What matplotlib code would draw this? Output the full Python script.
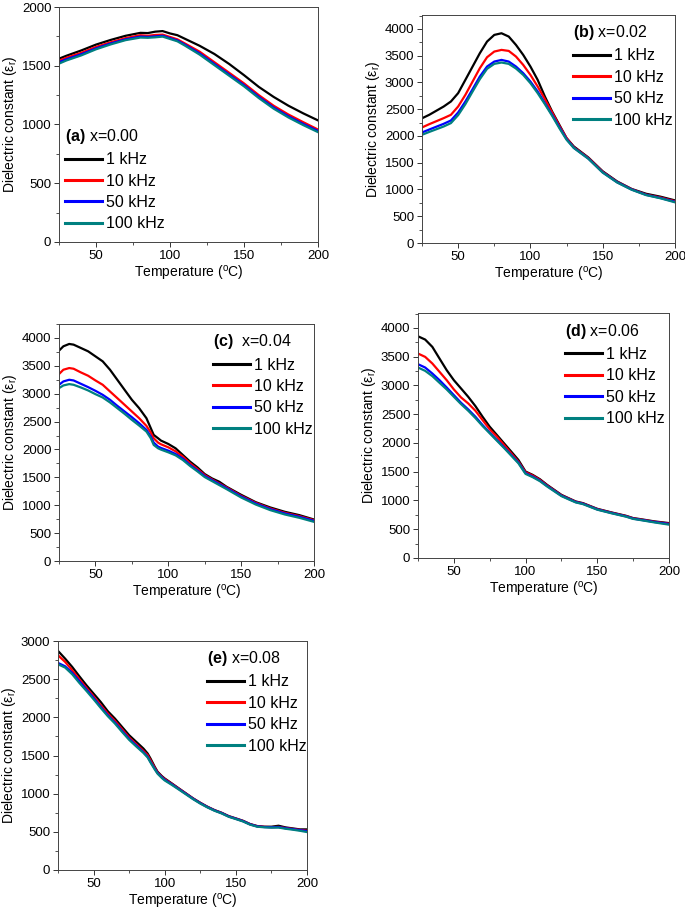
import numpy as np
import matplotlib
matplotlib.use("Agg")
import matplotlib.pyplot as plt
from matplotlib.ticker import MultipleLocator

plt.rcParams["font.family"] = ["Liberation Sans", "DejaVu Sans"]
plt.rcParams["mathtext.fontset"] = "custom"
plt.rcParams["mathtext.rm"] = "Liberation Sans"
plt.rcParams["mathtext.it"] = "Liberation Sans:italic"
plt.rcParams["mathtext.bf"] = "Liberation Sans:bold"

freqs = ["1 kHz", "10 kHz", "50 kHz", "100 kHz"]
colors = ["black", "#ff0000", "#0000ff", "#008080"]

# (a) x=0.00
Ta = [25, 30, 40, 50, 60, 70, 80, 85, 90, 95, 100, 105, 110, 120, 130, 140, 150, 160, 170, 180, 190, 200]
a_1k = [1560, 1585, 1630, 1680, 1720, 1755, 1780, 1778, 1790, 1795, 1775, 1760, 1730, 1670, 1600, 1515, 1420, 1320, 1235, 1160, 1095, 1035]
a_10k = [1543, 1568, 1610, 1660, 1700, 1735, 1760, 1755, 1762, 1765, 1745, 1725, 1690, 1620, 1530, 1440, 1350, 1250, 1160, 1085, 1020, 957]
a_50k = [1530, 1555, 1598, 1648, 1690, 1725, 1748, 1745, 1750, 1755, 1735, 1715, 1680, 1605, 1515, 1425, 1335, 1235, 1145, 1070, 1005, 945]
a_100k = [1518, 1545, 1588, 1640, 1682, 1718, 1740, 1738, 1742, 1748, 1728, 1708, 1672, 1595, 1505, 1415, 1325, 1225, 1135, 1060, 995, 935]

# (b) x=0.02
Tb = [25, 30, 40, 45, 50, 55, 60, 65, 70, 75, 80, 85, 90, 95, 100, 105, 110, 115, 120, 125, 130, 140, 150, 160, 170, 180, 190, 200]
b_1k = [2330, 2395, 2550, 2644, 2800, 3048, 3297, 3546, 3764, 3888, 3919, 3857, 3701, 3515, 3297, 3048, 2737, 2457, 2208, 1960, 1804, 1599, 1340, 1150, 1010, 920, 865, 796]
b_10k = [2159, 2220, 2333, 2395, 2550, 2768, 3017, 3266, 3471, 3577, 3608, 3589, 3484, 3328, 3141, 2924, 2688, 2439, 2190, 1960, 1790, 1590, 1330, 1140, 1005, 905, 850, 780]
b_50k = [2065, 2120, 2227, 2289, 2439, 2644, 2874, 3110, 3297, 3390, 3421, 3390, 3297, 3173, 3017, 2831, 2613, 2395, 2165, 1941, 1780, 1580, 1320, 1135, 1000, 900, 840, 770]
b_100k = [2022, 2075, 2177, 2240, 2389, 2594, 2830, 3061, 3254, 3347, 3372, 3347, 3260, 3141, 2986, 2800, 2594, 2377, 2146, 1929, 1775, 1575, 1315, 1130, 995, 895, 835, 760]

# (c) x=0.04
Tc = [25, 28, 32, 35, 40, 45, 50, 55, 60, 65, 70, 75, 80, 85, 88, 90, 93, 95, 100, 105, 110, 115, 120, 125, 130, 135, 140, 150, 160, 170, 180, 190, 200]
c_1k = [3772, 3850, 3892, 3880, 3820, 3760, 3670, 3580, 3430, 3250, 3070, 2891, 2741, 2561, 2381, 2261, 2201, 2159, 2099, 2021, 1901, 1781, 1679, 1559, 1481, 1421, 1331, 1187, 1055, 960, 882, 822, 744]
c_10k = [3352, 3430, 3460, 3448, 3382, 3322, 3238, 3160, 3040, 2921, 2801, 2681, 2561, 2423, 2303, 2201, 2123, 2093, 2039, 1967, 1871, 1751, 1649, 1541, 1463, 1391, 1319, 1169, 1043, 942, 864, 804, 732]
c_50k = [3160, 3220, 3250, 3238, 3178, 3118, 3052, 2980, 2891, 2783, 2681, 2579, 2471, 2351, 2231, 2123, 2051, 2027, 1979, 1919, 1835, 1721, 1625, 1523, 1451, 1379, 1307, 1157, 1031, 930, 852, 792, 720]
c_100k = [3100, 3148, 3172, 3160, 3112, 3058, 2992, 2932, 2843, 2741, 2639, 2531, 2429, 2321, 2201, 2081, 2021, 1997, 1949, 1895, 1811, 1703, 1607, 1505, 1433, 1361, 1289, 1139, 1013, 912, 834, 774, 702]

# (d) x=0.06
Td = [25, 30, 35, 40, 45, 50, 55, 60, 65, 70, 75, 80, 85, 90, 95, 100, 105, 110, 115, 120, 125, 130, 135, 140, 150, 160, 170, 175, 180, 190, 200]
d_1k = [3855, 3798, 3671, 3468, 3266, 3092, 2948, 2803, 2642, 2457, 2283, 2139, 1994, 1850, 1705, 1503, 1445, 1370, 1272, 1185, 1098, 1040, 983, 954, 855, 792, 734, 694, 676, 636, 607]
d_10k = [3555, 3497, 3382, 3237, 3092, 2931, 2792, 2688, 2561, 2399, 2237, 2110, 1965, 1821, 1676, 1491, 1434, 1358, 1262, 1176, 1090, 1033, 977, 948, 850, 787, 729, 689, 670, 630, 598]
d_50k = [3370, 3312, 3208, 3092, 2965, 2832, 2699, 2584, 2457, 2312, 2179, 2052, 1925, 1792, 1659, 1474, 1416, 1345, 1252, 1168, 1083, 1027, 972, 943, 845, 782, 724, 685, 665, 625, 592]
d_100k = [3312, 3254, 3162, 3046, 2931, 2803, 2676, 2561, 2434, 2295, 2168, 2040, 1913, 1780, 1647, 1462, 1405, 1336, 1244, 1160, 1076, 1020, 966, 937, 840, 777, 719, 680, 660, 618, 580]

# (e) x=0.08
Te = [25, 30, 35, 40, 45, 50, 55, 60, 65, 70, 75, 80, 85, 88, 90, 93, 95, 98, 100, 105, 110, 115, 120, 125, 130, 135, 140, 145, 150, 155, 160, 165, 170, 175, 180, 185, 190, 195, 200]
e_1k = [2870, 2769, 2660, 2538, 2420, 2311, 2202, 2080, 1984, 1875, 1766, 1679, 1592, 1526, 1461, 1352, 1287, 1230, 1199, 1134, 1068, 1003, 938, 881, 829, 785, 750, 706, 676, 645, 602, 576, 567, 567, 580, 558, 545, 532, 532]
e_10k = [2813, 2726, 2617, 2499, 2385, 2276, 2159, 2050, 1954, 1845, 1736, 1648, 1561, 1505, 1439, 1339, 1278, 1222, 1191, 1128, 1064, 1000, 935, 878, 826, 782, 747, 703, 673, 642, 600, 573, 565, 562, 565, 550, 538, 525, 515]
e_50k = [2713, 2669, 2582, 2473, 2364, 2255, 2137, 2028, 1932, 1823, 1718, 1631, 1544, 1483, 1417, 1326, 1269, 1214, 1182, 1122, 1059, 996, 932, 875, 824, 780, 745, 701, 671, 640, 598, 571, 563, 560, 562, 547, 535, 522, 510]
e_100k = [2695, 2652, 2564, 2451, 2346, 2237, 2124, 2015, 1919, 1810, 1705, 1618, 1535, 1474, 1409, 1317, 1261, 1205, 1173, 1115, 1053, 990, 927, 870, 820, 776, 741, 697, 667, 636, 594, 567, 559, 555, 556, 540, 528, 514, 497]

W, H = 685, 915
fig = plt.figure(figsize=(W / 100, H / 100), dpi=100)


def panel(box, T, series, ytop, title, leg_xy):
    l, t, r, b = box
    ax = fig.add_axes([l / W, 1 - b / H, (r - l) / W, (b - t) / H])
    for y, c, lab in zip(series, colors, freqs):
        ax.plot(T, y, color=c, lw=1.6, label=lab)
    ax.set_xlim(25, 200)
    ax.set_ylim(0, ytop)
    ax.xaxis.set_major_locator(MultipleLocator(50))
    ax.xaxis.set_minor_locator(MultipleLocator(25))
    ax.yaxis.set_major_locator(MultipleLocator(500))
    ax.yaxis.set_minor_locator(MultipleLocator(250))
    ax.tick_params(which="both", direction="out", top=False, right=False,
                   color="#333333", labelsize=9.5, pad=2)
    ax.tick_params(which="major", length=3.5, width=0.7)
    ax.tick_params(which="minor", length=2, width=0.6)
    for s in ax.spines.values():
        s.set_color("#444444")
        s.set_linewidth(0.7)
    ax.set_xlabel("Temperature ($^{\\rm o}$C)", fontsize=10, labelpad=2)
    ax.set_ylabel("Dielectric constant (ε$_{\\rm r}$)", fontsize=10, labelpad=2)
    leg = ax.legend(loc="upper left", bbox_to_anchor=leg_xy, frameon=False,
                    title=title, title_fontsize=11.5, fontsize=11.5,
                    handlelength=2.3, handletextpad=0.25, labelspacing=0.4,
                    borderpad=0, borderaxespad=0, alignment="left")
    for h in leg.get_lines():
        h.set_linewidth(2.2)
    return ax


panel((59, 7, 318, 242), Ta, [a_1k, a_10k, a_50k, a_100k], 2000,
      "$\\mathbf{(a)}$ x=0.00", (0.023, 0.49))
panel((422, 15, 675, 243), Tb, [b_1k, b_10k, b_50k, b_100k], 4260,
      "$\\mathbf{(b)}$ x=0.02", (0.597, 0.965))
panel((59, 324, 314, 561), Tc, [c_1k, c_10k, c_50k, c_100k], 4250,
      "$\\mathbf{(c)}$  x=0.04", (0.604, 0.965))
panel((418, 313, 669, 558), Td, [d_1k, d_10k, d_50k, d_100k], 4260,
      "$\\mathbf{(d)}$ x=0.06", (0.586, 0.965))
panel((58, 641, 307, 870), Te, [e_1k, e_10k, e_50k, e_100k], 3000,
      "$\\mathbf{(e)}$ x=0.08", (0.598, 0.965))

fig.savefig("out.png", dpi=100)
